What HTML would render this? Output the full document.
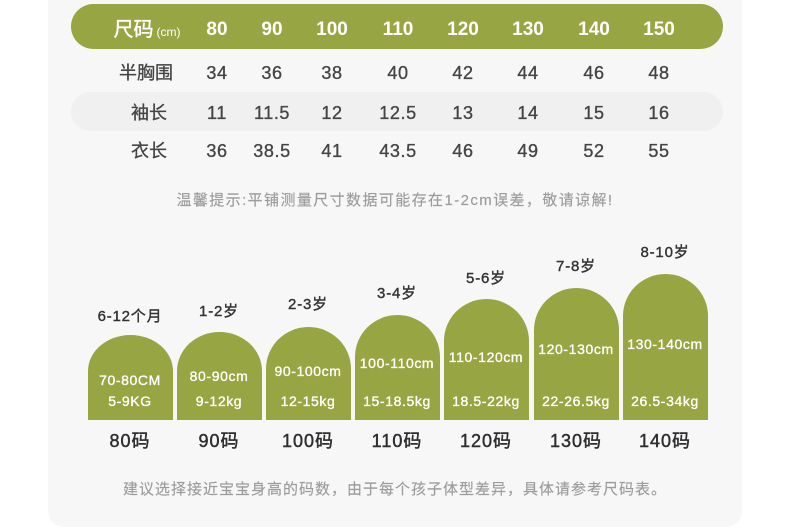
<!DOCTYPE html>
<html><head><meta charset="utf-8">
<style>
html,body{margin:0;padding:0;background:#fff;}
body{width:790px;height:528px;position:relative;overflow:hidden;font-family:"Liberation Sans","Noto Sans CJK SC",sans-serif;}
.panel{position:absolute;left:48px;top:-20px;width:694px;height:547px;background:#f7f7f7;border-radius:16px;}
.pill{position:absolute;left:71px;top:4px;width:652px;height:45px;background:#97a542;border-radius:23px;}
.stripe{position:absolute;left:71px;top:92px;width:652px;height:39px;background:#f0f0f0;border-radius:20px;}
.t{position:absolute;white-space:nowrap;text-align:center;width:140px;height:24px;line-height:24px;}
.h{color:#fff;font-size:19px;font-weight:bold;}
.d{color:#454545;font-size:18px;letter-spacing:0.6px;-webkit-text-stroke:0.35px #454545;}
.lab{color:#444;font-size:18px;-webkit-text-stroke:0.3px #444;}
.card{position:absolute;width:85px;background:#97a542;border-radius:42.5px 42.5px 0 0/42px 42px 0 0;}
.ct{color:#fff;font-size:14px;letter-spacing:0.6px;-webkit-text-stroke:0.35px #fff;}
.age{color:#333;font-size:15px;letter-spacing:0.8px;-webkit-text-stroke:0.4px #333;}
.sz{color:#2e2e2e;font-size:18px;letter-spacing:1px;-webkit-text-stroke:0.45px #2e2e2e;}
.note{position:absolute;white-space:nowrap;text-align:center;color:#9c9c9c;-webkit-text-stroke:0.15px #9c9c9c;}
</style></head><body>
<div class="panel"></div>
<div class="pill"></div>
<div class="stripe"></div>

<!-- header -->
<div class="t h" style="left:77px;top:18px;"><span style="font-size:20px;font-weight:normal;-webkit-text-stroke:0.4px #fff;">尺码</span><span style="font-size:12px;font-weight:normal;margin-left:3px;">(cm)</span></div>
<div class="t h" style="left:147px;top:18px;">80</div>
<div class="t h" style="left:202px;top:18px;">90</div>
<div class="t h" style="left:262px;top:18px;">100</div>
<div class="t h" style="left:328px;top:18px;">110</div>
<div class="t h" style="left:393px;top:18px;">120</div>
<div class="t h" style="left:458px;top:18px;">130</div>
<div class="t h" style="left:524px;top:18px;">140</div>
<div class="t h" style="left:589px;top:18px;">150</div>

<!-- row 1 -->
<div class="t lab" style="left:76px;top:61px;">半胸围</div>
<div class="t d" style="left:147px;top:61px;">34</div>
<div class="t d" style="left:202px;top:61px;">36</div>
<div class="t d" style="left:262px;top:61px;">38</div>
<div class="t d" style="left:328px;top:61px;">40</div>
<div class="t d" style="left:393px;top:61px;">42</div>
<div class="t d" style="left:458px;top:61px;">44</div>
<div class="t d" style="left:524px;top:61px;">46</div>
<div class="t d" style="left:589px;top:61px;">48</div>

<!-- row 2 -->
<div class="t lab" style="left:79px;top:101px;">袖长</div>
<div class="t d" style="left:147px;top:101px;">11</div>
<div class="t d" style="left:202px;top:101px;">11.5</div>
<div class="t d" style="left:262px;top:101px;">12</div>
<div class="t d" style="left:328px;top:101px;">12.5</div>
<div class="t d" style="left:393px;top:101px;">13</div>
<div class="t d" style="left:458px;top:101px;">14</div>
<div class="t d" style="left:524px;top:101px;">15</div>
<div class="t d" style="left:589px;top:101px;">16</div>

<!-- row 3 -->
<div class="t lab" style="left:79px;top:139px;">衣长</div>
<div class="t d" style="left:147px;top:139px;">36</div>
<div class="t d" style="left:202px;top:139px;">38.5</div>
<div class="t d" style="left:262px;top:139px;">41</div>
<div class="t d" style="left:328px;top:139px;">43.5</div>
<div class="t d" style="left:393px;top:139px;">46</div>
<div class="t d" style="left:458px;top:139px;">49</div>
<div class="t d" style="left:524px;top:139px;">52</div>
<div class="t d" style="left:589px;top:139px;">55</div>

<div class="note" style="left:95px;width:600px;top:190px;height:22px;line-height:22px;font-size:15px;letter-spacing:1.4px;">温馨提示:平铺测量尺寸数据可能存在1-2cm误差，敬请谅解!</div>

<!-- cards -->
<div class="card" style="left:88px;top:335px;height:85px;border-radius:42.5px 42.5px 0 0/36px 36px 0 0;"></div>
<div class="card" style="left:177px;top:332px;height:88px;border-radius:42.5px 42.5px 0 0/39px 39px 0 0;"></div>
<div class="card" style="left:266px;top:327px;height:93px;"></div>
<div class="card" style="left:355px;top:315px;height:105px;"></div>
<div class="card" style="left:444px;top:299px;height:121px;"></div>
<div class="card" style="left:534px;top:288px;height:132px;"></div>
<div class="card" style="left:623px;top:274px;height:146px;"></div>

<!-- ages -->
<div class="t age" style="left:60px;top:305px;">6-12个月</div>
<div class="t age" style="left:149px;top:300px;">1-2岁</div>
<div class="t age" style="left:238px;top:293px;">2-3岁</div>
<div class="t age" style="left:327px;top:282px;">3-4岁</div>
<div class="t age" style="left:416px;top:267px;">5-6岁</div>
<div class="t age" style="left:506px;top:255px;">7-8岁</div>
<div class="t age" style="left:595px;top:241px;">8-10岁</div>

<!-- cm -->
<div class="t ct" style="left:60px;top:368px;">70-80CM</div>
<div class="t ct" style="left:149px;top:364px;">80-90cm</div>
<div class="t ct" style="left:238px;top:359px;">90-100cm</div>
<div class="t ct" style="left:327px;top:351px;">100-110cm</div>
<div class="t ct" style="left:416px;top:345px;">110-120cm</div>
<div class="t ct" style="left:506px;top:337px;">120-130cm</div>
<div class="t ct" style="left:595px;top:332px;">130-140cm</div>

<!-- kg -->
<div class="t ct" style="left:60px;top:389px;">5-9KG</div>
<div class="t ct" style="left:149px;top:389px;">9-12kg</div>
<div class="t ct" style="left:238px;top:389px;">12-15kg</div>
<div class="t ct" style="left:327px;top:389px;">15-18.5kg</div>
<div class="t ct" style="left:416px;top:389px;">18.5-22kg</div>
<div class="t ct" style="left:506px;top:389px;">22-26.5kg</div>
<div class="t ct" style="left:595px;top:389px;">26.5-34kg</div>

<!-- sizes -->
<div class="t sz" style="left:60px;top:429px;">80码</div>
<div class="t sz" style="left:149px;top:429px;">90码</div>
<div class="t sz" style="left:238px;top:429px;">100码</div>
<div class="t sz" style="left:327px;top:429px;">110码</div>
<div class="t sz" style="left:416px;top:429px;">120码</div>
<div class="t sz" style="left:506px;top:429px;">130码</div>
<div class="t sz" style="left:595px;top:429px;">140码</div>

<div class="note" style="left:45px;width:700px;top:479px;height:22px;line-height:22px;font-size:15px;letter-spacing:1px;">建议选择接近宝宝身高的码数，由于每个孩子体型差异，具体请参考尺码表。</div>
</body></html>
